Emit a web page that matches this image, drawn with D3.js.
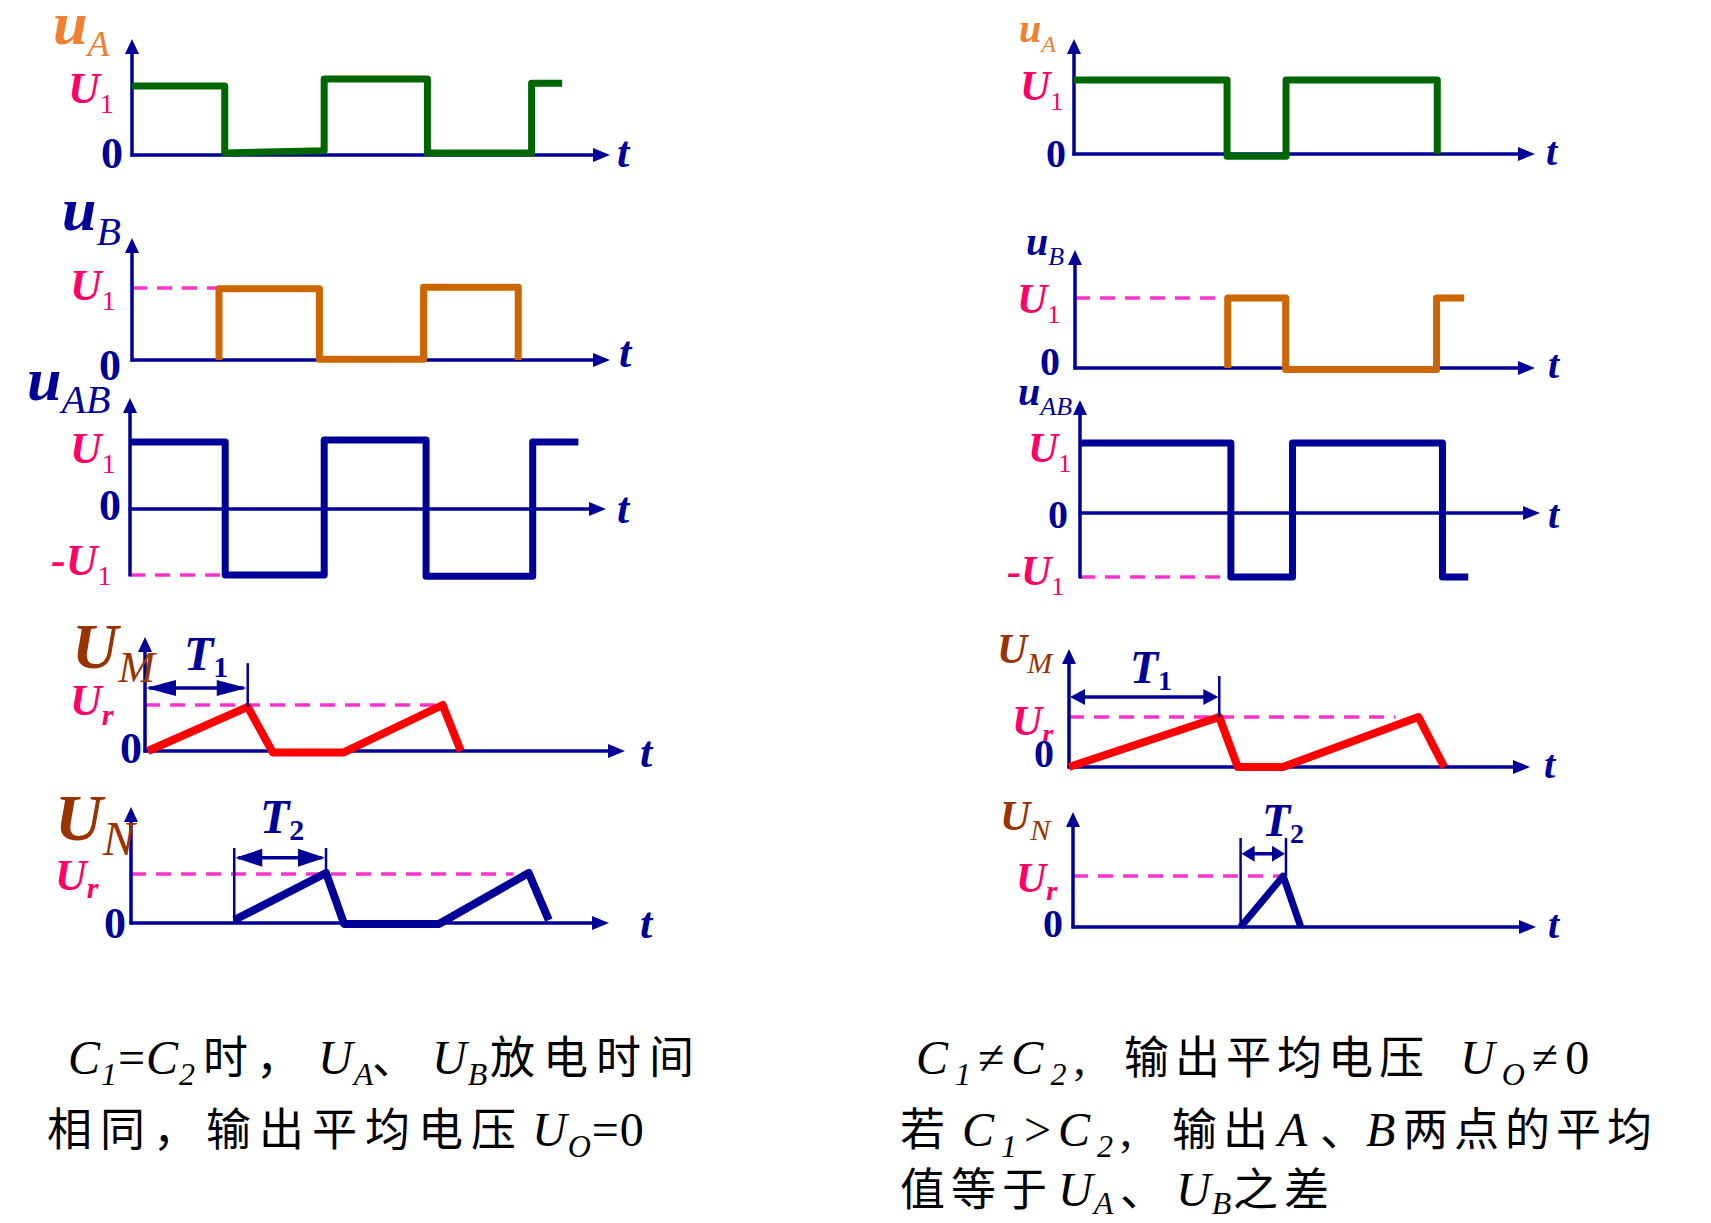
<!DOCTYPE html>
<html>
<head>
<meta charset="utf-8">
<script src="https://cdn.jsdelivr.net/npm/d3@7"></script>
<style>
  body { margin: 0; background: #fff; }
  svg { display: block; }
</style>
</head>
<body>
<svg id="chart" width="1711" height="1223"></svg>
<script>
// time in arbitrary units, values relative to U1 (square waves) or Ur (ramps)
var tDomain = [0, 5];

// left column: C1 = C2
var uA_L  = [[0, 1], [0.97, 1], [0.97, 0.03], [2.01, 0.06], [2.01, 1.1], [3.09, 1.1], [3.09, 0.03], [4.18, 0.03], [4.18, 1.04], [4.5, 1.04]];
var uB_L  = [[0.91, 0], [0.91, 0.99], [1.96, 0.99], [1.96, 0.01], [3.05, 0.01], [3.05, 1.01], [4.04, 1.01], [4.04, 0]];
var uAB_L = [[0, 1], [1.0, 1], [1.0, -1], [2.04, -1], [2.04, 1.03], [3.11, 1.03], [3.11, -1.02], [4.23, -1.02], [4.23, 1], [4.71, 1]];
var uM_L  = [[0.03, 0], [1.07, 0.96], [1.33, -0.03], [2.07, -0.03], [3.1, 1.0], [3.29, 0]];
var uN_L  = [[1.08, 0.06], [2.04, 1.02], [2.23, -0.02], [3.22, -0.02], [4.16, 1.02], [4.37, 0.06]];
var T1_L = [0, 1.07];
var T2_L = [1.08, 2.04];

// right column: C1 != C2
var uA_R  = [[0, 1], [1.66, 1], [1.66, -0.03], [2.3, -0.03], [2.3, 1], [3.94, 1], [3.94, 0]];
var uB_R  = [[1.66, 0], [1.66, 1], [2.29, 1], [2.29, -0.02], [3.93, -0.02], [3.93, 1], [4.23, 1]];
var uAB_R = [[0, 1], [1.64, 1], [1.64, -1], [2.31, -1], [2.31, 1], [3.94, 1], [3.94, -1], [4.22, -1]];
var uM_R  = [[0, 0], [1.63, 1], [1.83, 0], [2.32, 0], [3.79, 1], [4.07, 0]];
var uN_R  = [[1.81, 0], [2.27, 0.96], [2.46, 0]];
var T1_R = [0, 1.63];
var T2_R = [1.81, 2.3];

// captions: [text, style, x]  style: i italic, s italic subscript, r roman, c chinese
var captionL1 = [['C', 'i', 68], ['1', 's'], ['=', 'r'], ['C', 'i'], ['2', 's'], ['时，', 'c', 203], ['U', 'i', 318], ['A', 's'], ['、', 'c', 372], ['U', 'i', 432], ['B', 's'], ['放电时间', 'c', 490]];
var captionL2 = [['相同，输出平均电压', 'c', 47], ['U', 'i', 532], ['O', 's'], ['=0', 'r']];
var captionR1 = [['C', 'i', 916], ['1', 's'], ['≠', 'r'], ['C', 'i'], ['2', 's'], [',', 'r'], ['输出平均电压', 'c', 1124], ['U', 'i', 1460], ['O', 's'], ['≠0', 'r']];
var captionR2 = [['若', 'c', 900], ['C', 'i', 962], ['1', 's'], ['>', 'r'], ['C', 'i'], ['2', 's'], [',', 'r'], ['输出', 'c', 1172], ['A', 'i', 1278], ['、', 'c', 1320], ['B', 'i', 1366], ['两点的平均', 'c', 1403]];
var captionR3 = [['值等于', 'c', 900], ['U', 'i', 1058], ['A', 's'], ['、', 'c', 1120], ['U', 'i', 1176], ['B', 's'], ['之差', 'c', 1233]];

var NAVY = '#000099', PINK = '#FF0066', DASH = '#FF33CC', BROWN = '#993300';
var SERIF = '"Liberation Serif", "Times New Roman", serif';
var CJK = '"Noto Sans CJK SC", sans-serif';

var svg = d3.select('#chart');
svg.append('rect').attr('width', 1711).attr('height', 1223).attr('fill', '#fff');

function label(g, o) {
  var t = g.append('text')
    .attr('x', o.x).attr('y', o.y)
    .attr('fill', o.color)
    .style('font-family', SERIF);
  t.append('tspan').text(o.main)
    .style('font-size', o.size + 'px')
    .style('font-weight', o.bold === false ? 'normal' : 'bold')
    .style('font-style', o.italic === false ? 'normal' : 'italic');
  if (o.sub) {
    t.append('tspan').text(o.sub)
      .attr('dy', o.dy)
      .style('font-size', o.subSize + 'px')
      .style('font-weight', o.subBold ? 'bold' : 'normal')
      .style('font-style', o.subItalic === false ? 'normal' : 'italic');
  }
}

function head(g, x, y, dir, len, half, color) {
  var p;
  if (dir === 'up') p = [[x, y], [x - half, y + len], [x + half, y + len]];
  else if (dir === 'right') p = [[x, y], [x - len, y - half], [x - len, y + half]];
  else p = [[x, y], [x + len, y - half], [x + len, y + half]];
  g.append('path').attr('d', 'M' + p.join('L') + 'Z').attr('fill', color);
}

function panel(c) {
  var x = d3.scaleLinear().domain(tDomain).range([c.x0, c.x1]);
  var y = d3.scaleLinear().domain(c.vd || [0, 1]).range(c.yr);
  var g = svg.append('g');

  // reference level dashes
  (c.dash || []).forEach(function (d) {
    g.append('line')
      .attr('x1', x(d[0])).attr('x2', x(d[1]))
      .attr('y1', y(d[2])).attr('y2', y(d[2]))
      .attr('stroke', DASH).attr('stroke-width', 3.5)
      .attr('stroke-dasharray', '15,10');
  });

  // axes
  var ah = c.ah || 15;
  g.append('line')
    .attr('x1', x(0)).attr('x2', x(0))
    .attr('y1', y(c.vBottom || 0) + 1.5).attr('y2', c.yTop + ah - 2)
    .attr('stroke', NAVY).attr('stroke-width', 3.5);
  head(g, x(0), c.yTop, 'up', ah, 7, NAVY);
  g.append('line')
    .attr('x1', x(0) - 1.5).attr('x2', x(tDomain[1]) - ah + 2)
    .attr('y1', y(0)).attr('y2', y(0))
    .attr('stroke', NAVY).attr('stroke-width', 3.5);
  head(g, x(tDomain[1]), y(0), 'right', ah + 2, 7, NAVY);

  // waveform
  g.append('path')
    .datum(c.data)
    .attr('d', d3.line().x(function (d) { return x(d[0]); }).y(function (d) { return y(d[1]); }))
    .attr('fill', 'none')
    .attr('stroke', c.color)
    .attr('stroke-width', c.sw || 7)
    .attr('stroke-linejoin', 'round');

  // period annotation
  if (c.T) {
    var T = c.T;
    T.ticks.forEach(function (k) {
      g.append('line')
        .attr('x1', x(k[0])).attr('x2', x(k[0]))
        .attr('y1', y(k[1])).attr('y2', y(T.vTop))
        .attr('stroke', NAVY).attr('stroke-width', 2.5);
    });
    var ya = y(T.vArrow);
    g.append('line')
      .attr('x1', x(T.span[0]) + 4).attr('x2', x(T.span[1]) - 4)
      .attr('y1', ya).attr('y2', ya)
      .attr('stroke', NAVY).attr('stroke-width', 3.5);
    head(g, x(T.span[0]) + 1, ya, 'left', T.len, T.half, NAVY);
    head(g, x(T.span[1]) - 1, ya, 'right', T.len, T.half, NAVY);
    label(g, T.label);
  }

  c.labels.forEach(function (o) { label(g, o); });
}

function lev(x, y, main, sub, size, subSize, dy, subBold, subItalic) {
  return { x: x, y: y, main: main, sub: sub, size: size, subSize: subSize, dy: dy,
    color: PINK, subBold: subBold, subItalic: subItalic };
}
function zero(x, y, size) {
  return { x: x, y: y, main: '0', size: size, color: NAVY, italic: false };
}
function tl(x, y, size) {
  return { x: x, y: y, main: 't', size: size, color: NAVY };
}

var panels = [
  // ---------- left ----------
  { data: uA_L, color: '#006600', x0: 132, x1: 610, yr: [155, 86], yTop: 39,
    labels: [
      { x: 53, y: 44, main: 'u', sub: 'A', size: 62, subSize: 36, dy: 12, color: '#F08030' },
      lev(68, 103, 'U', '1', 44, 28, 10, false, false),
      zero(101, 168, 44), tl(617, 167, 44)] },
  { data: uB_L, color: '#CC6600', x0: 132, x1: 610, yr: [360, 288], yTop: 238,
    dash: [[0, 0.91, 1]],
    labels: [
      { x: 62, y: 230, main: 'u', sub: 'B', size: 62, subSize: 40, dy: 15, color: NAVY },
      lev(70, 300, 'U', '1', 44, 28, 10, false, false),
      zero(99, 380, 44), tl(619, 367, 44)] },
  { data: uAB_L, color: NAVY, x0: 130, x1: 606, vd: [-1, 0, 1], yr: [575, 509, 442], yTop: 398, vBottom: -1,
    dash: [[0, 1.0, -1]],
    labels: [
      { x: 27, y: 400, main: 'u', sub: 'AB', size: 62, subSize: 40, dy: 13, color: NAVY },
      lev(70, 463, 'U', '1', 44, 28, 10, false, false),
      lev(51, 575, '-U', '1', 44, 28, 10, false, false),
      zero(99, 520, 44), tl(617, 523, 44)] },
  { data: uM_L, color: '#FF0000', sw: 8, x0: 145, x1: 625, yr: [751, 705], yTop: 637,
    dash: [[0, 3.1, 1]],
    T: { ticks: [[T1_L[1], 0.96]], span: T1_L, vTop: 1.91, vArrow: 1.37, len: 30, half: 8,
      label: { x: 184, y: 670, main: 'T', sub: '1', size: 48, subSize: 30, dy: 7, color: NAVY, subItalic: false, subBold: true } },
    labels: [
      { x: 72, y: 668, main: 'U', sub: 'M', size: 64, subSize: 44, dy: 14, color: BROWN },
      lev(70, 715, 'U', 'r', 44, 30, 10, true, true),
      zero(120, 763, 44), tl(640, 767, 44)] },
  { data: uN_L, color: NAVY, sw: 8, x0: 131, x1: 609, yr: [923, 874], yTop: 807,
    dash: [[0, 4.0, 1]],
    T: { ticks: [[T2_L[0], 0], [T2_L[1], 1.02]], span: T2_L, vTop: 1.53, vArrow: 1.33, len: 27, half: 9,
      label: { x: 260, y: 833, main: 'T', sub: '2', size: 48, subSize: 30, dy: 7, color: NAVY, subItalic: false, subBold: true } },
    labels: [
      { x: 55, y: 840, main: 'U', sub: 'N', size: 66, subSize: 48, dy: 15, color: BROWN },
      lev(55, 890, 'U', 'r', 44, 30, 8, true, true),
      zero(104, 938, 44), tl(640, 938, 44)] },

  // ---------- right ----------
  { data: uA_R, color: '#006600', x0: 1074, x1: 1535, yr: [154, 80], yTop: 39,
    labels: [
      { x: 1019, y: 42, main: 'u', sub: 'A', size: 40, subSize: 24, dy: 10, color: '#F08030' },
      lev(1020, 100, 'U', '1', 42, 26, 10, false, false),
      zero(1046, 167, 40), tl(1546, 165, 40)] },
  { data: uB_R, color: '#CC6600', x0: 1075, x1: 1535, yr: [368, 298], yTop: 250,
    dash: [[0, 1.66, 1]],
    labels: [
      { x: 1026, y: 255, main: 'u', sub: 'B', size: 40, subSize: 26, dy: 10, color: NAVY },
      lev(1017, 313, 'U', '1', 42, 26, 10, false, false),
      zero(1040, 375, 40), tl(1548, 378, 40)] },
  { data: uAB_R, color: NAVY, x0: 1080, x1: 1540, vd: [-1, 0, 1], yr: [577, 513, 443], yTop: 400, vBottom: -1,
    dash: [[0, 1.64, -1]],
    labels: [
      { x: 1018, y: 405, main: 'u', sub: 'AB', size: 40, subSize: 26, dy: 10, color: NAVY },
      lev(1028, 462, 'U', '1', 42, 26, 10, false, false),
      lev(1007, 585, '-U', '1', 42, 26, 10, false, false),
      zero(1048, 528, 40), tl(1548, 528, 40)] },
  { data: uM_R, color: '#FF0000', sw: 8, x0: 1069, x1: 1530, yr: [767, 717], yTop: 649,
    dash: [[0, 3.54, 1]],
    T: { ticks: [[T1_R[1], 1]], span: T1_R, vTop: 1.82, vArrow: 1.4, len: 15, half: 8,
      label: { x: 1130, y: 683, main: 'T', sub: '1', size: 46, subSize: 28, dy: 7, color: NAVY, subItalic: false, subBold: true } },
    labels: [
      { x: 997, y: 663, main: 'U', sub: 'M', size: 42, subSize: 30, dy: 10, color: BROWN },
      lev(1012, 735, 'U', 'r', 42, 28, 8, true, true),
      zero(1034, 767, 40), tl(1544, 778, 40)] },
  { data: uN_R, color: NAVY, sw: 7, x0: 1073, x1: 1536, yr: [927, 874], yTop: 812,
    dash: [[0, 2.27, 0.96]],
    T: { ticks: [[T2_R[0], 0], [T2_R[1], 0.96]], span: T2_R, vTop: 1.68, vArrow: 1.38, len: 13, half: 8,
      label: { x: 1262, y: 836, main: 'T', sub: '2', size: 46, subSize: 28, dy: 7, color: NAVY, subItalic: false, subBold: true } },
    labels: [
      { x: 1000, y: 830, main: 'U', sub: 'N', size: 42, subSize: 30, dy: 10, color: BROWN },
      lev(1016, 892, 'U', 'r', 42, 28, 8, true, true),
      zero(1043, 937, 40), tl(1548, 938, 40)] }
];

panels.forEach(panel);

// captions
function caption(parts, y, spacing, subDy, latinSpacing) {
  var t = svg.append('text').attr('y', y).attr('fill', '#000');
  var sub = false;
  parts.forEach(function (p) {
    var s = t.append('tspan').text(p[0]);
    if (p[2] !== undefined) s.attr('x', p[2]);
    if (p[1] === 's') {
      s.attr('dy', sub ? 0 : subDy);
      sub = true;
    } else {
      if (sub) s.attr('dy', -subDy);
      sub = false;
    }
    if (p[1] === 'c') {
      s.style('font-family', CJK).style('font-size', '45px').style('letter-spacing', spacing + 'px');
    } else {
      s.style('font-family', SERIF)
        .style('font-size', p[1] === 's' ? '32px' : '48px')
        .style('font-style', p[1] === 'r' ? 'normal' : 'italic')
        .style('letter-spacing', (latinSpacing || 0) + 'px');
    }
  });
}

caption(captionL1, 1074, 8, 11, 1);
caption(captionL2, 1146, 8, 11, 1);
caption(captionR1, 1074, 6, 11, 7);
caption(captionR2, 1146, 6, 11, 7);
caption(captionR3, 1206, 6, 8, 1);
</script>
</body>
</html>
